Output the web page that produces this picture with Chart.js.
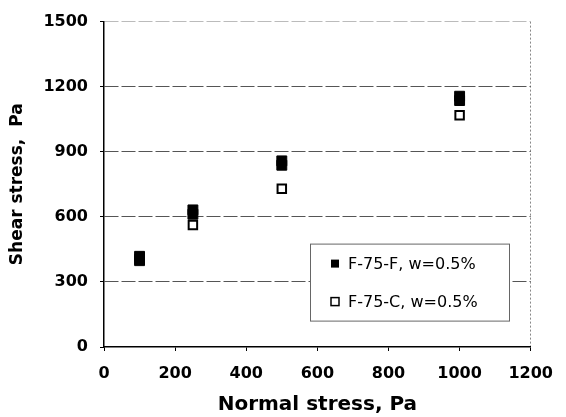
<!DOCTYPE html>
<html>
<head>
<meta charset="utf-8">
<script src="https://cdn.jsdelivr.net/npm/chart.js@4.4.1/dist/chart.umd.min.js"></script>
<style>
  html, body { margin: 0; padding: 0; background: #fff; }
  #wrap { width: 566px; height: 417px; }
</style>
</head>
<body>
<div id="wrap"><canvas id="chart" width="566" height="417"></canvas></div>
<script>
// normal stress (Pa) applied in each test
const normalStress = [100, 250, 500, 1000];
// F-75-F, w=0.5% : two replicate readings at each normal stress
const shearFineRun1 = [398, 612, 838, 1136];
const shearFineRun2 = [418, 632, 858, 1156];
// F-75-C, w=0.5%
const shearCoarse = [405, 562, 729, 1068];

const seriesNames = ['F-75-F, w=0.5%', 'F-75-C, w=0.5%'];
const xTicks = [0, 200, 400, 600, 800, 1000, 1200];
const yTicks = [0, 300, 600, 900, 1200, 1500];

const tickFont = { family: 'DejaVu Sans', size: 16, weight: 'bold' };

function toPoints(xs, ys) {
  return xs.map((x, i) => ({ x: x, y: ys[i] }));
}

// legend drawn inside the plot, like the original figure
const insideLegend = {
  id: 'insideLegend',
  afterDraw(chart) {
    const ctx = chart.ctx;
    const area = chart.chartArea;
    const left = area.left + 206;
    const top = area.top + 222;
    const w = 199, h = 77;
    ctx.save();
    ctx.fillStyle = '#fff';
    ctx.fillRect(left, top, w, h);
    ctx.strokeStyle = '#666';
    ctx.lineWidth = 1;
    ctx.strokeRect(left + 0.5, top + 0.5, w, h);
    ctx.font = '16px "DejaVu Sans"';
    ctx.textBaseline = 'middle';
    chart.data.datasets.forEach((ds, i) => {
      const cy = top + 20 + i * 38;
      const mx = left + 25;
      if (i === 0) {
        ctx.fillStyle = '#000';
        ctx.fillRect(mx - 4, cy - 4, 8, 8);
      } else {
        ctx.fillStyle = '#fff';
        ctx.fillRect(mx - 4, cy - 4, 8, 8);
        ctx.strokeStyle = '#000';
        ctx.lineWidth = 1.5;
        ctx.strokeRect(mx - 4, cy - 4, 8, 8);
      }
      ctx.fillStyle = '#000';
      ctx.fillText(ds.label, left + 38, cy + 1);
    });
    ctx.restore();
  }
};

const ctx = document.getElementById('chart').getContext('2d');
new Chart(ctx, {
  type: 'scatter',
  data: {
    datasets: [
      {
        label: seriesNames[0],
        data: toPoints(normalStress, shearFineRun1).concat(toPoints(normalStress, shearFineRun2)),
        order: 0,
        pointStyle: 'rect',
        pointRadius: 7,
        pointHoverRadius: 7,
        backgroundColor: '#000',
        borderColor: '#000',
        borderWidth: 1
      },
      {
        label: seriesNames[1],
        data: toPoints(normalStress, shearCoarse),
        order: 1,
        pointStyle: 'rect',
        pointRadius: 6,
        pointHoverRadius: 6,
        backgroundColor: '#fff',
        borderColor: '#000',
        borderWidth: 2
      }
    ]
  },
  options: {
    responsive: false,
    animation: false,
    layout: { padding: { top: 15, right: 21, left: 0, bottom: 0 } },
    plugins: {
      legend: { display: false },
      tooltip: { enabled: false }
    },
    scales: {
      x: {
        type: 'linear',
        min: 0,
        max: 1200,
        afterBuildTicks: s => { s.ticks = xTicks.map(v => ({ value: v })); },
        afterFit: s => { s.height = 70; },
        ticks: { font: tickFont, color: '#000', padding: 13, callback: v => String(v) },
        grid: {
          color: c => (c.tick && c.tick.value === 1200 ? '#888' : 'rgba(0,0,0,0)'),
          tickColor: '#000',
          tickLength: 4,
          lineWidth: 1
        },
        border: { color: '#000', width: 1.5, dash: [2, 2] },
        title: {
          display: true,
          text: 'Normal stress, Pa',
          color: '#000',
          font: { family: 'DejaVu Sans', size: 20, weight: 'bold' },
          padding: { top: 0, bottom: 0 }
        }
      },
      y: {
        min: 0,
        max: 1500,
        afterBuildTicks: s => { s.ticks = yTicks.map(v => ({ value: v })); },
        afterFit: s => { s.width = 104; },
        ticks: { font: tickFont, color: '#000', padding: 12, callback: v => String(v) },
        grid: {
          color: c => {
            if (!c.tick) return 'rgba(0,0,0,0)';
            if (c.tick.value === 0) return 'rgba(0,0,0,0)';
            if (c.tick.value === 1500) return '#bbb';
            return '#555';
          },
          tickColor: '#000',
          tickLength: 4,
          lineWidth: 1
        },
        border: { color: '#000', width: 1.5, dash: [14, 3] },
        title: {
          display: true,
          text: 'Shear stress,  Pa',
          color: '#000',
          font: { family: 'DejaVu Sans', size: 17, weight: 'bold' },
          padding: { top: 7, bottom: 0 }
        }
      }
    }
  },
  plugins: [insideLegend]
});
</script>
</body>
</html>
